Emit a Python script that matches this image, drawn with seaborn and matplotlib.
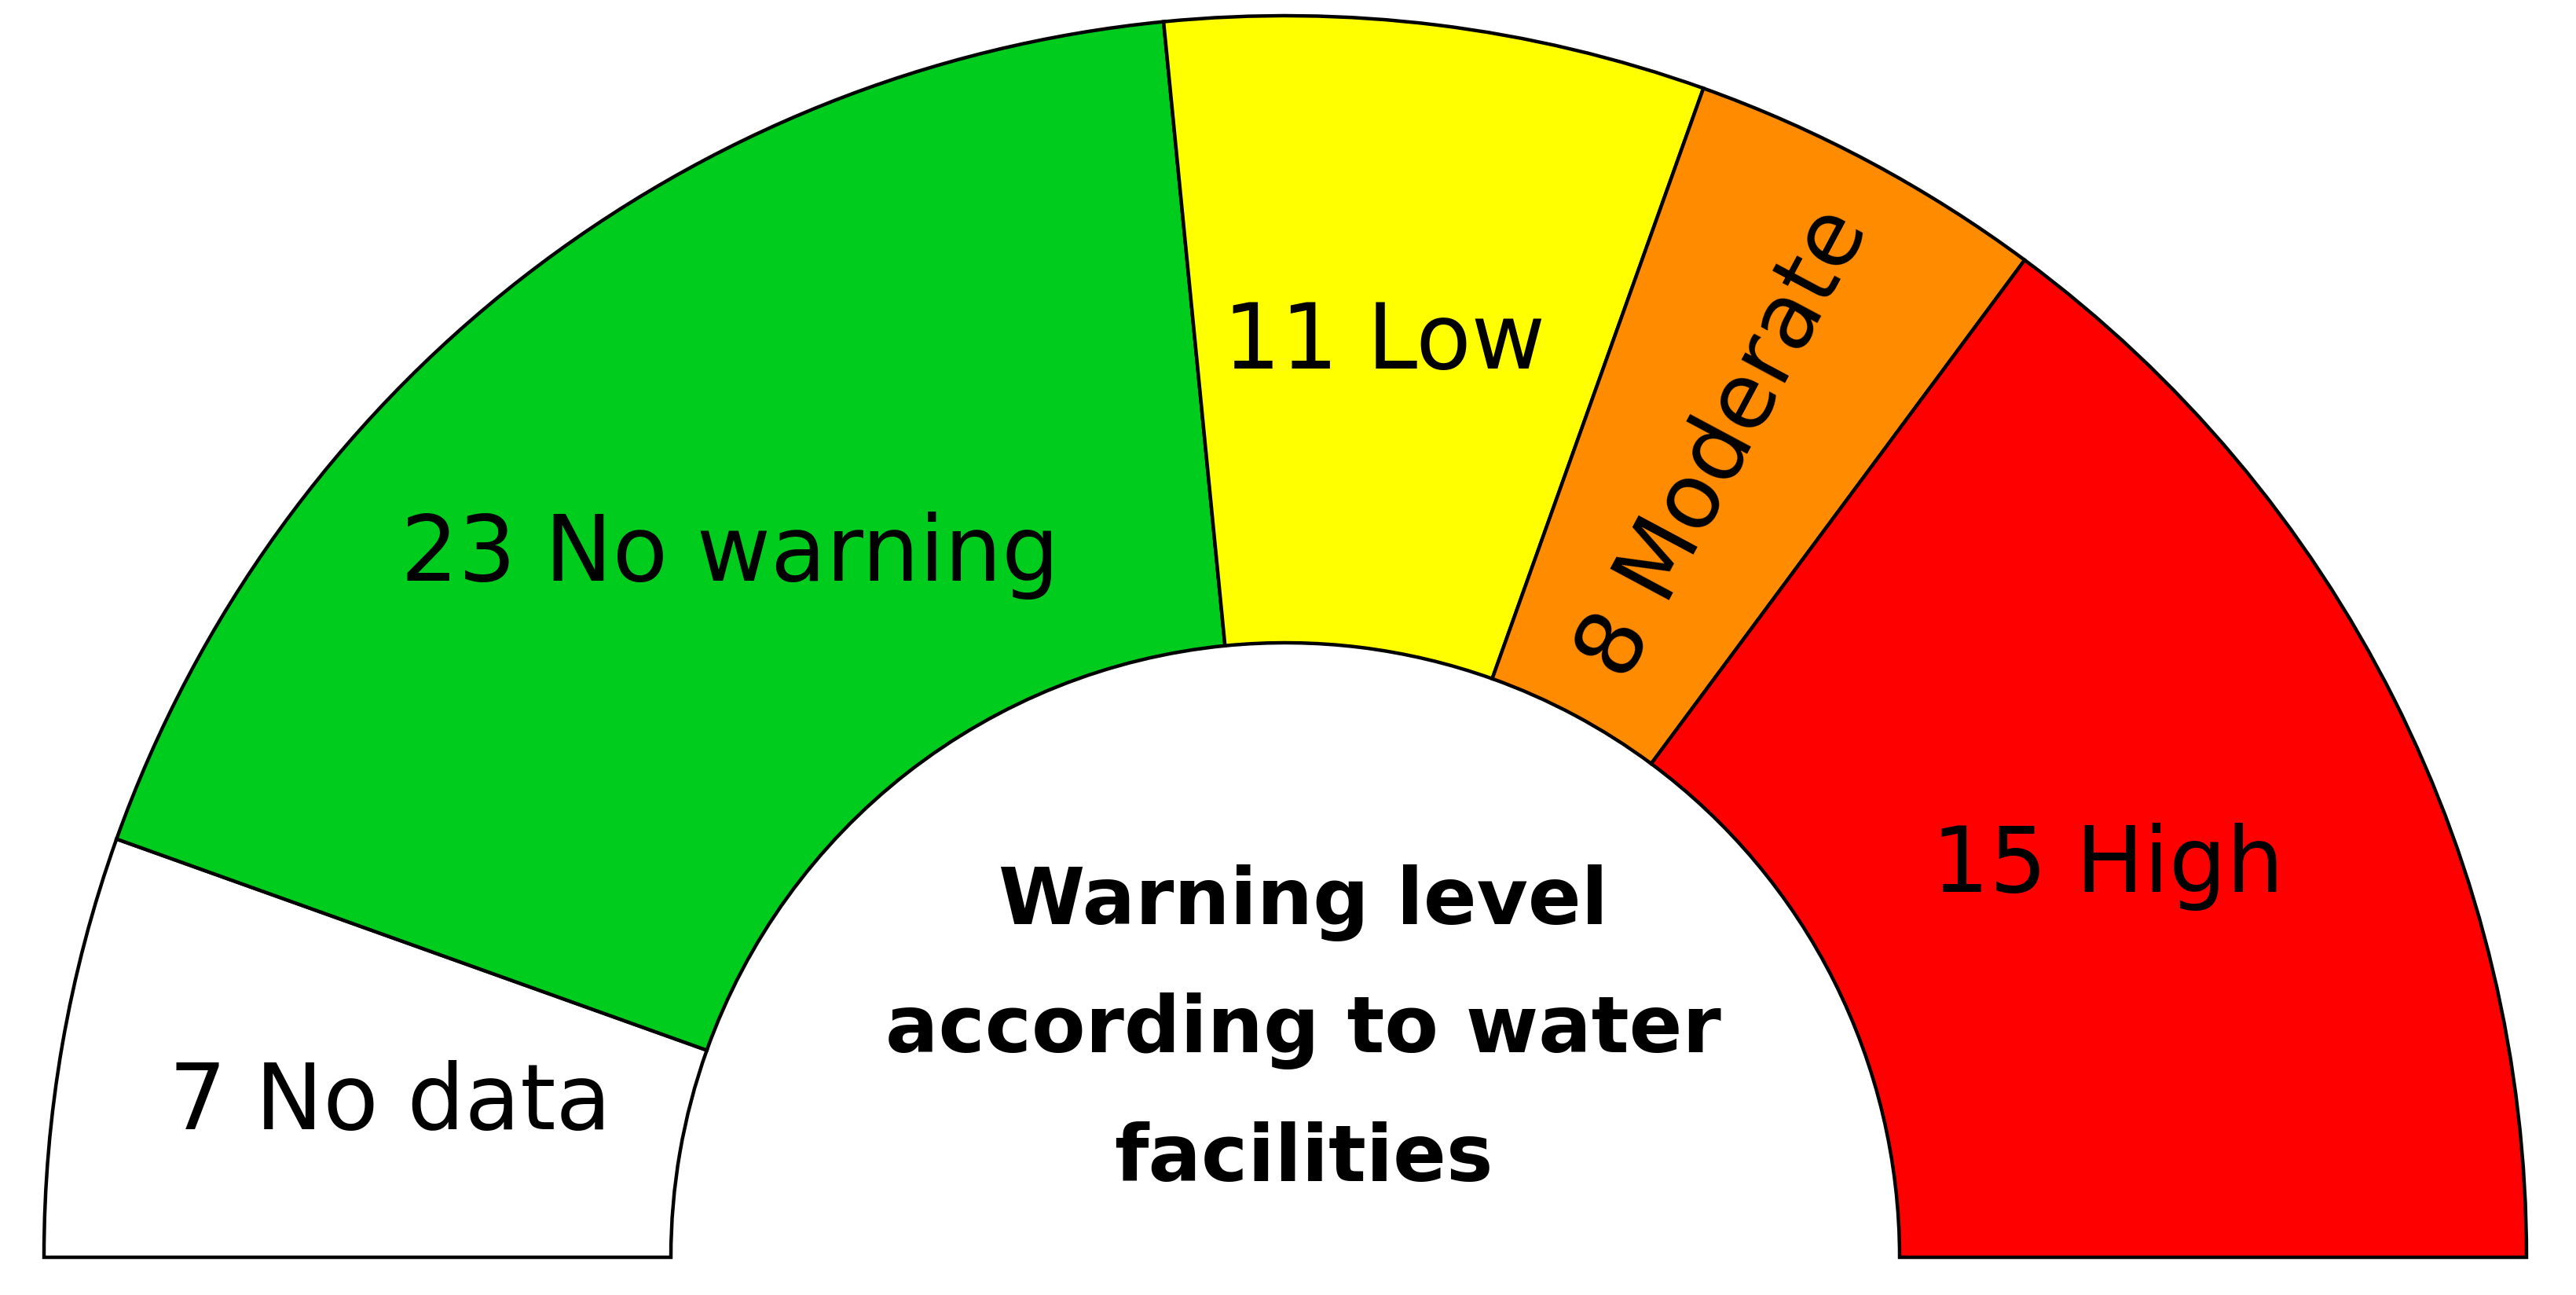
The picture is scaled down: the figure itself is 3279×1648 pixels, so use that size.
import numpy as np
import matplotlib
matplotlib.use("Agg")
import matplotlib.pyplot as plt
from matplotlib.patches import Wedge
import seaborn as sns

# ---- data ----
categories = ["No data", "No warning", "Low", "Moderate", "High"]
label_counts = [7, 23, 11, 8, 15]          # numbers printed on the segments
arc_sizes = [7, 23, 9, 6, 19]              # relative arc sizes as drawn (out of a half circle)
colors = ["#FFFFFF", "#00CC1E", "#FFFF00", "#FF8C00", "#FF0000"]
center_title = ["Warning level", "according to water", "facilities"]
rotated = ["Moderate"]

sns.set_theme(style="white")
plt.rcParams['font.family'] = ['DejaVu Sans']

W, H = 3279, 1648
fig = plt.figure(figsize=(W / 100, H / 100), dpi=100)
fig.patch.set_facecolor("white")
ax = fig.add_axes([0, 0, 1, 1])
ax.set_xlim(0, W)
ax.set_ylim(0, H)
ax.axis("off")

cx, cy = 1636, H - 1600
R_out, R_in = 1580, 782
r_label = 1165
# small layout nudges of label positions (pixels: right, up)
label_nudge = [(8, -4), (10, -25), (-17, 7), (10, 8), (6, -27)]
total = float(sum(arc_sizes))

start = 180.0
for name, cnt, size, col, (nx, ny) in zip(categories, label_counts, arc_sizes,
                                          colors, label_nudge):
    span = size / total * 180.0
    t2 = start
    t1 = start - span
    ax.add_patch(Wedge((cx, cy), R_out, t1, t2, width=R_out - R_in,
                       facecolor=col, edgecolor="black", linewidth=3.2,
                       joinstyle="miter"))
    mid = np.deg2rad((t1 + t2) / 2.0)
    x = cx + r_label * np.cos(mid) + nx
    y = cy + r_label * np.sin(mid) + ny
    rot = np.degrees(mid) if name in rotated else 0
    ax.text(x, y, f"{cnt} {name}", ha="center", va="center", fontsize=83,
            rotation=rot, rotation_mode="anchor", color="black")
    start = t1

title_x = 1659
title_baselines = [1176, 1339, 1503]
for line, yb in zip(center_title, title_baselines):
    ax.text(title_x, H - yb, line, ha="center", va="baseline", fontsize=72,
            fontweight="bold", color="black")

fig.savefig("out.png", dpi=100, facecolor="white")
